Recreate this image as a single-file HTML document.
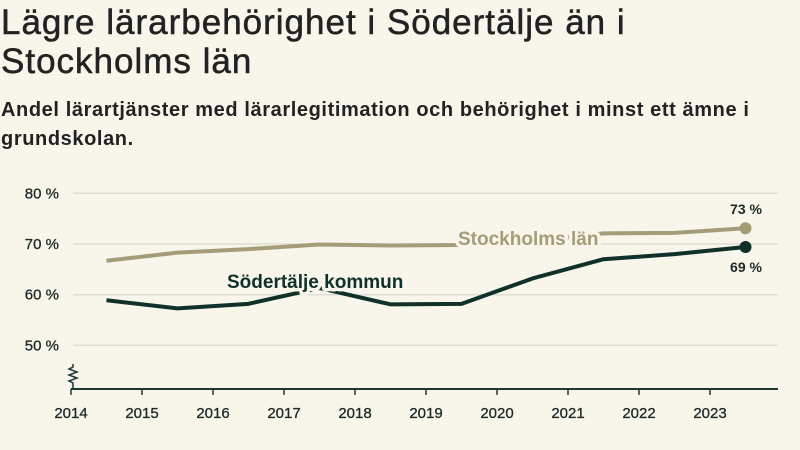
<!DOCTYPE html>
<html><head><meta charset="utf-8"><style>
body{margin:0;background:#f8f5eb;width:800px;height:450px;overflow:hidden;font-family:"Liberation Sans",sans-serif;color:#1c2a26}
h1{position:absolute;left:1px;top:3px;margin:0;font-size:35px;line-height:39px;font-weight:normal;color:#222;width:680px;letter-spacing:1px;-webkit-text-stroke:0.5px #222}
h2{position:absolute;left:1px;top:96px;margin:0;font-size:20px;line-height:29px;font-weight:bold;color:#222;width:798px;letter-spacing:0.6px}
svg{position:absolute;left:0;top:0}
</style></head><body>
<h1>Lägre lärarbehörighet i Södertälje än i Stockholms län</h1>
<h2>Andel lärartjänster med lärarlegitimation och behörighet i minst ett ämne i grundskolan.</h2>
<svg id="c" width="800" height="450"></svg>
<script>
const years=[2014.5,2015.5,2016.5,2017.5,2018.5,2019.5,2020.5,2021.5,2022.5,2023.5];
const sthlm=[66.7,68.3,69.0,69.9,69.7,69.8,70.6,72.1,72.2,73.1];
const sodt=[58.9,57.3,58.2,61.3,58.1,58.2,63.2,67.0,68.0,69.4];
const yTicks=[50,60,70,80];
const xTicks=[2014,2015,2016,2017,2018,2019,2020,2021,2022,2023];
const NS="http://www.w3.org/2000/svg",svg=document.getElementById('c');
const X=v=>71+(v-2014)*71, Y=v=>244-(v-70)*5.07;
function mk(t,a,p){const e=document.createElementNS(NS,t);for(const k in a)e.setAttribute(k,a[k]);(p||svg).appendChild(e);return e;}
yTicks.forEach(t=>{
 const g=mk('line',{x1:73,x2:778,y1:Y(t),y2:Y(t),stroke:'#e0ddd4','stroke-width':1.5});
 
 
 const l=mk('text',{x:59,y:Y(t)+5,'text-anchor':'end','font-size':15,fill:'#1c2a26',stroke:'#1c2a26','stroke-width':0.3});l.textContent=t+' %';
 
 
});
const ax=mk('line',{x1:71,x2:778,y1:389,y2:389,stroke:'#1c3a33','stroke-width':2});


const zz=mk('polyline',{points:'73,364 73,367 69,369 77,372 69,375 77,378 69,381 73,383 73,389',fill:'none',stroke:'#1c3a33','stroke-width':1.5});


xTicks.forEach(t=>{
 const k=mk('line',{x1:X(t),x2:X(t),y1:389,y2:395,stroke:'#1c3a33','stroke-width':1.5});
 
 
 const l=mk('text',{x:X(t),y:418,'text-anchor':'middle','font-size':15,fill:'#1c2a26',stroke:'#1c2a26','stroke-width':0.3});l.textContent=t;
 
 
});
function series(vals,col,name){
 const p=mk('polyline',{points:years.map((y,i)=>X(y)+','+Y(vals[i])).join(' '),fill:'none',stroke:col,'stroke-width':4,'stroke-linejoin':'round'});
 
 
 const n=vals.length-1;
 const d=mk('circle',{cx:X(years[n]),cy:Y(vals[n]),r:6,fill:col});
 
 
}
series(sthlm,'#a39d78','stockholm');
series(sodt,'#0f3129','sodertalje');
function lab(x,y,txt,col,name,anchor,size){
 const t=mk('text',{x:x,y:y,'text-anchor':anchor||'start','font-size':size||19,fill:col,stroke:'#f8f5eb','stroke-width':7,'paint-order':'stroke','stroke-linejoin':'round','font-weight':'bold'});
 t.textContent=txt;
 
 
}
lab(458,245,'Stockholms län','#a39d78','stockholm-label');
lab(227,288,'Södertälje kommun','#0f3129','sodertalje-label');
lab(746,214,Math.round(sthlm[9])+' %','#1c2a26','stockholm-end-value','middle',14);
lab(746,272,Math.round(sodt[9])+' %','#1c2a26','sodertalje-end-value','middle',14);
</script>
</body></html>
